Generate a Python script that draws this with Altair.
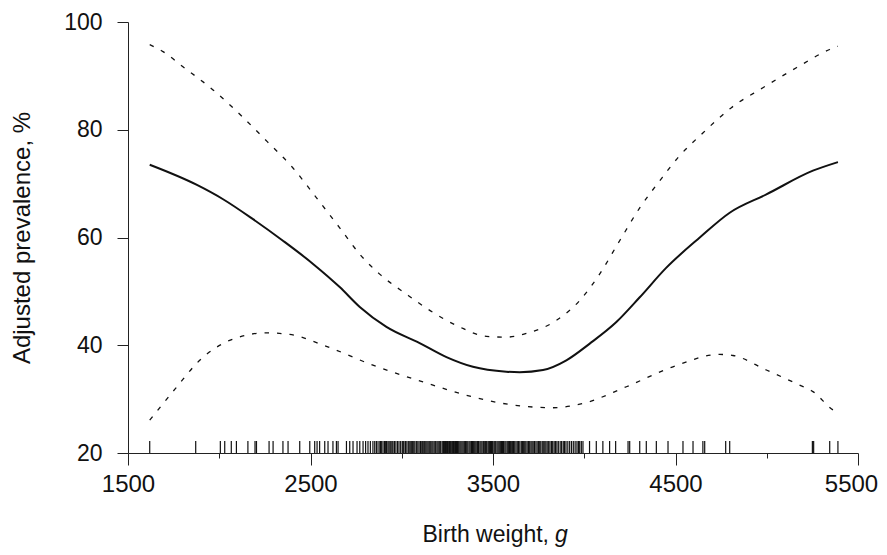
import altair as alt
import pandas as pd

# ---- data ----
fit_g = [1619, 1875, 2021, 2185, 2349, 2514, 2660, 2770, 2916, 3098, 3245, 3390,
         3573, 3646, 3774, 3902, 4030, 4176, 4304, 4450, 4633, 4797, 4998, 5253, 5390]
fit_v = [73.5, 69.8, 67.1, 63.4, 59.4, 55.1, 50.8, 47.1, 43.4, 40.4, 37.8, 36.0,
         35.1, 35.0, 35.4, 37.2, 40.3, 44.3, 48.9, 54.4, 60.0, 64.6, 68.0, 72.4, 74.0]

upper_g = [1619, 1692, 1801, 1966, 2121, 2263, 2404, 2532, 2660, 2770, 2879, 3025,
           3171, 3317, 3464, 3573, 3683, 3847, 3975, 4084, 4194, 4304, 4413, 4518,
           4650, 4806, 4979, 5162, 5345, 5390]
upper_v = [95.8, 94.5, 91.7, 87.4, 82.6, 77.8, 72.9, 67.4, 61.8, 56.9, 53.2, 49.5,
           46.1, 43.4, 41.65, 41.5, 42.2, 44.6, 48.3, 53.2, 59.4, 65.5, 70.5, 75.0,
           79.4, 84.1, 87.8, 91.5, 94.9, 95.5]

lower_g = [1619, 1756, 1893, 2057, 2258, 2386, 2587, 2842, 3116, 3390, 3591, 3829,
           3993, 4231, 4486, 4742, 4815, 4998, 5180, 5253, 5363, 5390]
lower_v = [26.1, 31.8, 37.2, 40.9, 42.3, 42.0, 39.8, 36.3, 33.2, 30.4, 29.0, 28.4,
           29.2, 32.3, 36.0, 38.3, 38.1, 35.4, 32.6, 31.4, 28.0, 27.5]

rug_g = [1619, 1871, 2006, 2030, 2066, 2094, 2157, 2196, 2204, 2273, 2295, 2349,
         2377, 2441, 2496, 2523, 2536, 2550, 2578, 2596, 2623, 2642, 2651, 2697,
         2715, 2733, 2755, 2770, 2788, 2802, 2815, 2828, 2842, 2852, 2861, 2870,
         2880, 2888, 2897, 2905, 2916, 2924, 2930, 2941, 2952, 2960, 2968, 2985,
         2994, 3003, 3012, 3028, 3036, 3050, 3060, 3072, 3080, 3095, 3103, 3115,
         3126, 3138, 3150, 3160, 3172, 3181, 3193, 3205, 3214, 3222, 3235, 3246,
         3255, 3268, 3279, 3288, 3300, 3310, 3318, 3330, 3342, 3350, 3362, 3375,
         3388, 3400, 3412, 3420, 3434, 3447, 3458, 3467, 3480, 3492, 3505, 3515,
         3528, 3540, 3552, 3565, 3578, 3590, 3600, 3612, 3626, 3640, 3655, 3668,
         3680, 3694, 3708, 3720, 3735, 3750, 3762, 3778, 3790, 3805, 3820, 3835,
         3850, 3868, 3885, 3900, 3920, 3940, 3960, 3975, 3993, 4029, 4066, 4102,
         4139, 4172, 4240, 4249, 4304, 4340, 4395, 4459, 4541, 4596, 4650, 4660,
         4775, 4797, 5250, 5257, 5345, 5390,
         2884, 2910, 2936, 2947, 2977, 3008, 3020, 3044, 3055, 3066, 3088, 3110,
         3121, 3132, 3144, 3155, 3166, 3186, 3199, 3210, 3229, 3240, 3251, 3262,
         3274, 3284, 3294, 3305, 3324, 3336, 3346, 3356, 3369, 3382, 3394, 3406,
         3416, 3428, 3440, 3452, 3463, 3474, 3486, 3498, 3510, 3522, 3534, 3546,
         3558, 3571, 3584, 3595, 3606, 3619, 3633, 3647, 3661, 3674, 3687, 3701,
         3714, 3727, 3742, 3756, 3770, 3784, 3797, 3812, 3827, 3842, 3858, 3876,
         3892, 3910, 3930, 3950, 3968, 3984]

x_ticks = [1500, 2000, 2500, 3000, 3500, 4000, 4500, 5000, 5500]
y_ticks = [20, 40, 60, 80, 100]
y_title = "Adjusted prevalence, %"
x_title_main = "Birth weight,"
x_title_unit = "g"

FONT = "Liberation Sans"
FS = 24
INK = "#111111"
W, H = 730, 431

fit_df = pd.DataFrame({"g": fit_g, "v": fit_v})
up_df = pd.DataFrame({"g": upper_g, "v": upper_v})
lo_df = pd.DataFrame({"g": lower_g, "v": lower_v})
rug_df = pd.DataFrame({"g": rug_g})

xscale = alt.Scale(domain=[1500, 5500], nice=False, zero=False)
yscale = alt.Scale(domain=[20, 100], nice=False, zero=False)

xaxis = alt.Axis(
    values=x_ticks, format="d",
    labelExpr="datum.value % 1000 == 500 ? datum.label : ''",
    tickSize={"condition": {"test": "datum.value % 1000 == 500", "value": 12}, "value": 5},
    labelOffset={"condition": {"test": "datum.value == 5500", "value": -7}, "value": 0},
    labelPadding=7, labelFont=FONT, labelFontSize=FS, labelColor=INK,
    domainColor="#222222", tickColor="#222222", domainWidth=1, tickWidth=1,
    grid=False, title=None, labelFlush=False, labelOverlap=False,
)
yaxis = alt.Axis(
    values=y_ticks, tickSize=11, labelPadding=15,
    labelFont=FONT, labelFontSize=23, labelColor=INK,
    domainColor="#222222", tickColor="#222222", domainWidth=1, tickWidth=1,
    grid=False, title=y_title, titleFont=FONT, titleFontSize=FS,
    titleFontWeight="normal", titleColor=INK, titleX=-106, titleY=H / 2,
    titleAngle=270, titleAlign="center", titleBaseline="middle",
    labelOverlap=False,
)

fit = alt.Chart(fit_df).mark_line(color=INK, strokeWidth=2, interpolate="monotone").encode(
    x=alt.X("g:Q", scale=xscale, axis=xaxis),
    y=alt.Y("v:Q", scale=yscale, axis=yaxis),
)
upper = alt.Chart(up_df).mark_line(
    color=INK, strokeWidth=1.3, strokeDash=[4.5, 8], interpolate="monotone"
).encode(x="g:Q", y="v:Q")
lower = alt.Chart(lo_df).mark_line(
    color=INK, strokeWidth=1.3, strokeDash=[4.5, 8], interpolate="monotone"
).encode(x="g:Q", y="v:Q")
rug = alt.Chart(rug_df).mark_rule(color=INK, strokeWidth=1.2).encode(
    x="g:Q", y=alt.value(H - 12), y2=alt.value(H)
)

title_main = alt.Chart(pd.DataFrame({"t": [x_title_main]})).mark_text(
    align="right", baseline="alphabetic", font=FONT, fontSize=23, color=INK
).encode(text="t:N", x=alt.value(421), y=alt.value(H + 89))
title_unit = alt.Chart(pd.DataFrame({"t": [x_title_unit]})).mark_text(
    align="left", baseline="alphabetic", font=FONT, fontSize=23, color=INK,
    fontStyle="italic"
).encode(text="t:N", x=alt.value(427), y=alt.value(H + 89))

chart = alt.layer(rug, upper, lower, fit, title_main, title_unit).properties(
    width=W, height=H,
    autosize=alt.AutoSizeParams(type="none"),
    padding={"left": 120, "top": 14, "right": 21, "bottom": 94},
    background="white",
).configure_view(stroke=None)

chart.save("out.html", embed_options={"renderer": "svg", "actions": False})
